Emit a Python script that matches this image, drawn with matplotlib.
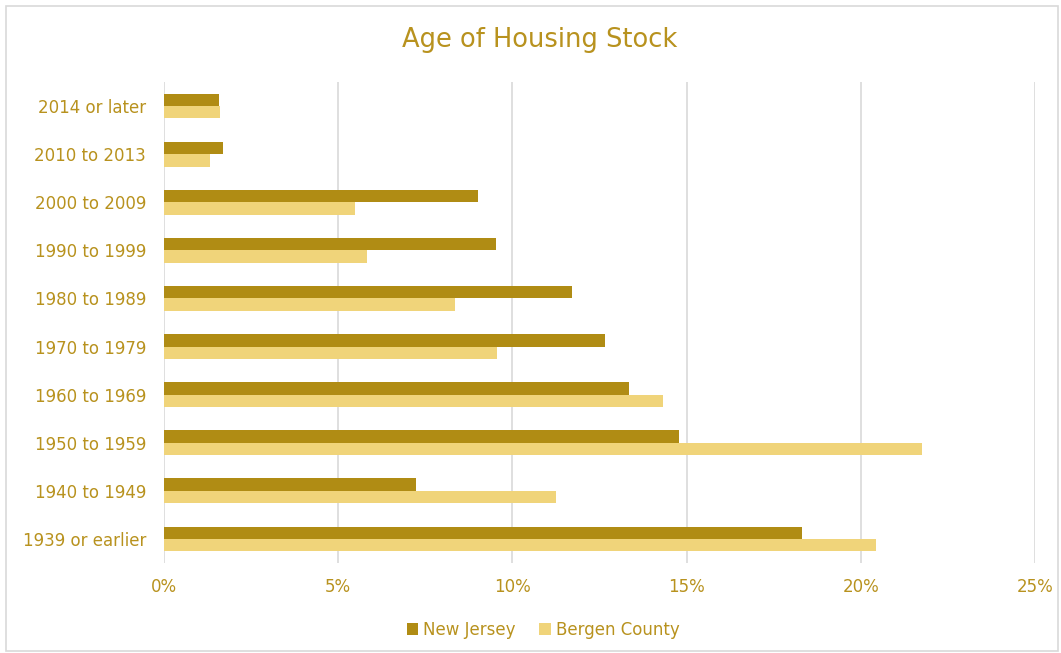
import matplotlib
matplotlib.use("Agg")
import matplotlib.pyplot as plt
import numpy as np
from matplotlib.patches import Rectangle

categories = ["2014 or later", "2010 to 2013", "2000 to 2009", "1990 to 1999",
              "1980 to 1989", "1970 to 1979", "1960 to 1969", "1950 to 1959",
              "1940 to 1949", "1939 or earlier"]
new_jersey = [1.58, 1.70, 9.02, 9.54, 11.72, 12.67, 13.36, 14.77, 7.24, 18.30]
bergen = [1.61, 1.32, 5.49, 5.83, 8.36, 9.57, 14.31, 21.75, 11.26, 20.43]
xticks = [0, 5, 10, 15, 20, 25]
xtick_labels = ["0%", "5%", "10%", "15%", "20%", "25%"]

nj_color = "#B08C14"
bc_color = "#F0D47A"
text_color = "#B8921E"
grid_color = "#D9D9D9"

plt.rcParams['font.family'] = ['DejaVu Sans']

fig = plt.figure(figsize=(10.61, 6.53), dpi=100)
ax = fig.add_axes([0.1546, 0.1378, 0.8209, 0.7366])

y = np.arange(len(categories))
h = 0.258
ax.barh(y - h / 2, new_jersey, height=h, color=nj_color, label="New Jersey", zorder=3)
ax.barh(y + h / 2, bergen, height=h, color=bc_color, label="Bergen County", zorder=3)

ax.set_ylim(len(categories) - 0.5, -0.5)
ax.set_xlim(0, 25)
ax.set_xticks(xticks)
ax.set_xticklabels(xtick_labels)
ax.set_yticks(y)
ax.set_yticklabels(categories)
ax.tick_params(axis='both', length=0, colors=text_color, labelsize=12)
ax.tick_params(axis='x', pad=11)
ax.tick_params(axis='y', pad=13)
ax.xaxis.grid(True, color=grid_color, linewidth=1.2, zorder=0)
ax.set_axisbelow(True)
for s in ax.spines.values():
    s.set_visible(False)

fig.text(540 / 1061, 1 - 40 / 653, "Age of Housing Stock", ha='center', va='center',
         fontsize=18.5, color=text_color)

leg = fig.legend(loc='center', bbox_to_anchor=(0.512, 1 - 630 / 653), ncol=2,
                 frameon=False, fontsize=12, handlelength=0.7, handleheight=0.7,
                 handletextpad=0.3, columnspacing=1.4)
for t in leg.get_texts():
    t.set_color(text_color)

fig.patches.append(Rectangle((6 / 1061, 2 / 653), 1 - 9 / 1061, 1 - 8 / 653,
                             transform=fig.transFigure, fill=False,
                             edgecolor="#D9D9D9", linewidth=1.2))

fig.savefig("out.png", dpi=100, facecolor="white")
